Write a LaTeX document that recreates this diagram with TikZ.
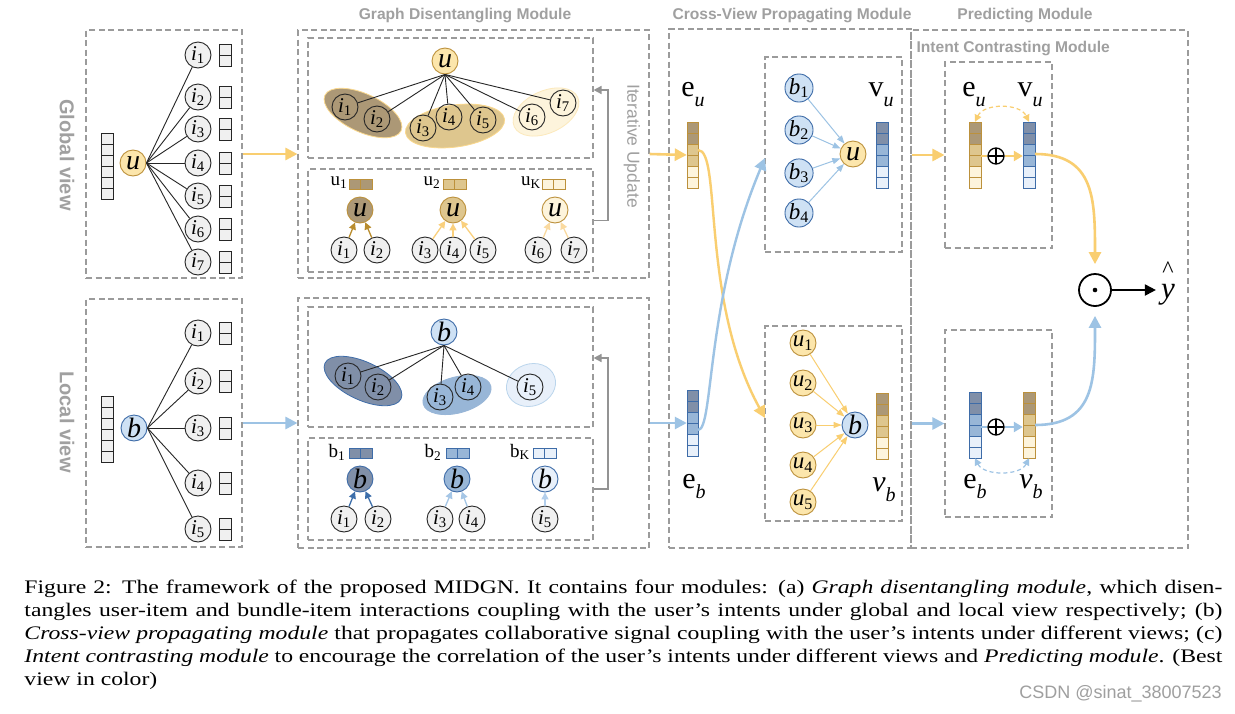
\documentclass[tikz,border=0pt]{standalone}
\usepackage{fontspec}
\setmainfont{Liberation Serif}
\setsansfont{Liberation Sans}
\usetikzlibrary{arrows.meta,shapes.geometric}
\definecolor{ylw}{RGB}{249,206,112}
\definecolor{blu}{RGB}{157,195,228}
\definecolor{brD}{RGB}{172,152,118}
\definecolor{brM}{RGB}{222,198,142}
\definecolor{brL}{RGB}{253,244,220}
\definecolor{brB}{RGB}{188,145,60}
\definecolor{blD}{RGB}{128,143,168}
\definecolor{blM}{RGB}{152,182,215}
\definecolor{blL}{RGB}{232,240,250}
\definecolor{blB}{RGB}{62,108,168}
\definecolor{uF}{RGB}{252,230,172}
\definecolor{bF}{RGB}{206,225,244}
\definecolor{gF}{RGB}{240,240,240}
\definecolor{dashG}{RGB}{155,155,155}
\definecolor{ttlG}{RGB}{160,160,160}
\definecolor{arG1}{RGB}{185,140,45}
\definecolor{arG2}{RGB}{250,208,125}
\definecolor{arG3}{RGB}{250,218,160}
\definecolor{arB1}{RGB}{60,110,170}
\definecolor{arB2}{RGB}{165,198,230}
\definecolor{arB3}{RGB}{178,206,236}
\newcommand\itm[1]{\textit{i}\textsubscript{#1}}
\newcommand\usb[1]{\textit{u}\textsubscript{#1}}
\newcommand\bsb[1]{\textit{b}\textsubscript{#1}}
\newcommand\elab[2]{{\fontsize{30}{30}\selectfont #1}\raisebox{-10pt}{\fontsize{20}{20}\selectfont\textit{#2}}}
\newcommand\vcells[6]{\foreach \cc [count=\kk from 0] in {#5} {\filldraw[fill=\cc, draw=#6, line width=0.9pt] (#1,{#2+\kk*#4}) rectangle ++(#3,#4);}}
\newcommand\hcells[6]{\foreach \cc [count=\kk from 0] in {#5} {\filldraw[fill=\cc, draw=#6, line width=0.9pt] ({#1+\kk*#3},#2) rectangle ++(#3,#4);}}
\begin{document}
\begin{tikzpicture}[x=1pt,y=-1pt,
  dbox/.style={draw=dashG, dash pattern=on 6pt off 3.5pt, line width=1.1pt, rectangle, inner sep=0pt},
  inode/.style={circle, draw=black!85, line width=0.9pt, minimum size=26pt, inner sep=0pt, font=\fontsize{21}{21}\selectfont},
  ginode/.style={inode, fill=gF},
  unode/.style={circle, draw=brB, line width=0.9pt, fill=uF, minimum size=26pt, inner sep=0pt, font=\fontsize{28}{28}\selectfont},
  bnode/.style={unode, draw=blB, fill=bF},
  snode/.style={circle, line width=0.9pt, minimum size=26pt, inner sep=0pt, font=\fontsize{23}{23}\selectfont},
  yarr/.style={draw=ylw, line width=2.6pt, -{Triangle[length=12pt,width=12pt]}},
  barr/.style={draw=blu, line width=2.6pt, -{Triangle[length=12pt,width=12pt]}},
  tarr/.style={line width=1.3pt, -{Triangle[length=7pt,width=7pt]}},
  farr/.style={line width=1pt, -{Triangle[length=8pt,width=6pt]}},
  iarr/.style={draw=gray!85, line width=1.5pt, -{Triangle[length=8pt,width=8pt]}},
  ttl/.style={font=\sffamily\bfseries\fontsize{15.6}{15.6}\selectfont, text=ttlG},
  vttl/.style={font=\sffamily\bfseries\fontsize{20}{20}\selectfont, text=ttlG, rotate=-90},
  lab/.style={font=\fontsize{19}{19}\selectfont, inner sep=0pt},
  vbox/.style={rectangle, inner sep=0pt, draw=none},
  edg/.style={draw=black!85, line width=0.9pt}]
\useasboundingbox (0,0) rectangle (1235,713);
\fill[white] (0,0) rectangle (1235,713);

% ---------------- Global view ----------------
\node[dbox, minimum width=156pt, minimum height=248pt] (gv) at (164,154) {};
\node[vttl] (gvl) at (67,155) {Global view};
\vcells{101}{133}{12}{11}{gF,gF,gF,gF,gF,gF}{black!85}
\node[unode] (gu) at (133,163) {\textit{u}};
\foreach \n/\yy in {1/55,2/97,3/129,4/163,5/196,6/229,7/262} {
  \node[ginode] (gi\n) at (198,\yy) {\itm{\n}};
  \draw[edg] (gu.east) -- (gi\n);
  \vcells{219}{\yy-11}{12}{11}{gF,gF}{black!85}
}
% ---------------- Local view ----------------
\node[dbox, minimum width=156pt, minimum height=248pt] (lv) at (164,423) {};
\node[vttl] (lvl) at (67,422) {Local view};
\vcells{101}{396}{12}{11}{gF,gF,gF,gF,gF,gF}{black!85}
\node[bnode] (lb) at (134,428) {\textit{b}};
\foreach \n/\yy in {1/333,2/381,3/428,4/483,5/529} {
  \node[ginode] (li\n) at (198,\yy) {\itm{\n}};
  \draw[edg] (lb.east) -- (li\n);
  \vcells{219}{\yy-11}{12}{11}{gF,gF}{black!85}
}

% ---------------- Graph disentangling (global) ----------------
\node[ttl] (t1) at (465,15) {Graph Disentangling Module};
\node[dbox, minimum width=351pt, minimum height=248pt] (gdg) at (473.5,154) {};
\node[dbox, minimum width=285pt, minimum height=120pt] (gtop) at (450.5,98) {};
\node[dbox, minimum width=285pt, minimum height=103pt] (gbot) at (450.5,220.5) {};
\node[ellipse, fill=brD, draw=ylw!80, line width=0.8pt, minimum width=84pt, minimum height=38pt, rotate=-25] (ge1) at (363,113) {};
\node[ellipse, fill=brM, draw=ylw!80, line width=0.8pt, minimum width=100pt, minimum height=42pt, rotate=8] (ge2) at (455,126) {};
\node[ellipse, fill=brL, draw=brL!70!ylw, line width=0.8pt, minimum width=70pt, minimum height=42pt, rotate=25] (ge3) at (546,112) {};
\node[unode] (gtu) at (445,61) {\textit{u}};
\foreach \n/\xx/\yy in {1/345/107,2/377/119,3/423/128,4/449/117,5/483/120,6/532/117,7/563/103} {
  \node[inode] (gt\n) at (\xx,\yy) {\itm{\n}};
  \draw[edg] (gtu.south) -- (gt\n);
}
\node[lab] (lu1) at (339,183) {u\textsubscript{1}};
\hcells{349}{179}{11.5}{10}{brD,brD}{brB}
\node[lab] (lu2) at (432,183) {u\textsubscript{2}};
\hcells{443}{179}{11.5}{10}{brM,brM}{brB}
\node[lab] (lu3) at (531,183) {u\textsubscript{K}};
\hcells{542}{179}{11.5}{10}{brL,brL}{brB}
\node[unode, fill=brD] (gbu1) at (360,210) {\textit{u}};
\node[unode, fill=brM] (gbu2) at (453,210) {\textit{u}};
\node[unode, fill=brL] (gbu3) at (555,210) {\textit{u}};
\foreach \n/\xx in {1/344,2/377,3/425,4/453,5/483,6/538,7/574} {
  \node[ginode] (gb\n) at (\xx,250) {\itm{\n}};
}
\draw[tarr, draw=arG1] (gb1) -- (gbu1);
\draw[tarr, draw=arG1] (gb2) -- (gbu1);
\draw[tarr, draw=arG2] (gb3) -- (gbu2);
\draw[tarr, draw=arG2] (gb4) -- (gbu2);
\draw[tarr, draw=arG2] (gb5) -- (gbu2);
\draw[tarr, draw=arG3] (gb6) -- (gbu3);
\draw[tarr, draw=arG3] (gb7) -- (gbu3);
\coordinate (itg) at (608,90);
\draw[iarr] (gbot.east) -| (itg) -- (gtop.east |- itg);
\node[rotate=-90, font=\sffamily\fontsize{17.5}{17.5}\selectfont, text=ttlG] (itl) at (632,146) {Iterative Update};

% ---------------- Graph disentangling (local) ----------------
\node[dbox, minimum width=351pt, minimum height=250pt] (gdl) at (473.5,423) {};
\node[dbox, minimum width=285pt, minimum height=120pt] (ltop) at (450.5,367) {};
\node[dbox, minimum width=285pt, minimum height=102pt] (lbot) at (450.5,489) {};
\node[ellipse, fill=blD, draw=blB, line width=0.8pt, minimum width=84pt, minimum height=38pt, rotate=-25] (le1) at (363,381) {};
\node[ellipse, fill=blM, draw=blM, line width=0.8pt, minimum width=70pt, minimum height=36pt, rotate=15] (le2) at (457,395) {};
\node[ellipse, fill=blL, draw=blu!70, line width=0.8pt, minimum width=50pt, minimum height=42pt, rotate=20] (le3) at (531,385) {};
\node[bnode] (ltb) at (444,332) {\textit{b}};
\foreach \n/\xx/\yy in {1/348/376,2/378/387,3/440/397,4/468/387,5/530/387} {
  \node[inode] (lt\n) at (\xx,\yy) {\itm{\n}};
  \draw[edg] (ltb.south) -- (lt\n);
}
\node[lab] (lb1) at (337,452) {b\textsubscript{1}};
\hcells{349}{448}{11.5}{10}{blD,blD}{blB}
\node[lab] (lb2) at (433,452) {b\textsubscript{2}};
\hcells{446}{448}{11.5}{10}{blM,blM}{blB}
\node[lab] (lb3) at (520,452) {b\textsubscript{K}};
\hcells{533}{448}{11.5}{10}{blL,blL}{blB}
\node[bnode, fill=blD] (lbb1) at (360,479) {\textit{b}};
\node[bnode, fill=blM] (lbb2) at (457,479) {\textit{b}};
\node[bnode, fill=blL] (lbb3) at (545,479) {\textit{b}};
\foreach \n/\xx in {1/344,2/378,3/440,4/472,5/545} {
  \node[ginode] (lbi\n) at (\xx,519) {\itm{\n}};
}
\draw[tarr, draw=arB1] (lbi1) -- (lbb1);
\draw[tarr, draw=arB1] (lbi2) -- (lbb1);
\draw[tarr, draw=arB2] (lbi3) -- (lbb2);
\draw[tarr, draw=arB2] (lbi4) -- (lbb2);
\draw[tarr, draw=arB3] (lbi5) -- (lbb3);
\coordinate (itl2) at (608,358);
\draw[iarr] (lbot.east) -| (itl2) -- (ltop.east |- itl2);

% module arrows
\draw[yarr] (gv.east) -- (gdg.west);
\draw[barr] (lv.east) -- (gdl.west);

% ---------------- Cross-view propagating ----------------
\node[ttl] (t2) at (792,15) {Cross-View Propagating Module};
\node[dbox, minimum width=242pt, minimum height=519pt] (cv) at (790,288.5) {};
\node[dbox, minimum width=137pt, minimum height=195pt] (cvt) at (833.5,154.5) {};
\node[dbox, minimum width=137pt, minimum height=195pt] (cvb) at (833.5,423.5) {};
\vcells{687}{122}{11}{11}{brD,brD,brM,brM,brL,brL}{brB}
\node[vbox, minimum width=11pt, minimum height=66pt] (eu) at (692.5,155) {};
\node[inner sep=0pt] (leu) at (693,95) {\elab{e}{u}};
\vcells{687}{390}{11}{11}{blD,blD,blM,blM,blL,blL}{blB}
\node[vbox, minimum width=11pt, minimum height=66pt] (eb) at (692.5,423) {};
\node[inner sep=0pt] (leb) at (694,487) {\elab{e}{b}};
\draw[yarr] (gdg.east) -- (eu.west);
\draw[barr] (gdl.east) -- (eb.west);
% top inner
\foreach \n/\yy in {1/88,2/130,3/173,4/213} {
  \node[snode, draw=blB, fill=bF] (cb\n) at (799,\yy) {\bsb{\n}};
}
\node[unode] (cu) at (853,154) {\textit{u}};
\foreach \n in {1,2,3,4} { \draw[farr, draw=blu] (cb\n) -- (cu); }
\vcells{876}{122}{12}{11}{blD,blD,blM,blM,blL,blL}{blB}
\node[vbox, minimum width=12pt, minimum height=66pt] (vu) at (882,155) {};
\node[inner sep=0pt] (lvu) at (881,95) {\elab{v}{u}};
% bottom inner
\foreach \n/\yy in {1/343,2/383,3/425,4/465,5/502} {
  \node[snode, draw=brB, fill=uF] (cuu\n) at (803,\yy) {\usb{\n}};
}
\node[bnode] (cbb) at (855,425) {\textit{b}};
\foreach \n in {1,2,3,4,5} { \draw[farr, draw=ylw] (cuu\n) -- (cbb); }
\vcells{876}{393}{12}{11}{brD,brD,brM,brM,brL,brL}{brB}
\node[vbox, minimum width=12pt, minimum height=66pt] (vb) at (882,426) {};
\node[inner sep=0pt] (lvb) at (884,490) {\elab{\textit{v}}{b}};
% crossing curves
\coordinate (euo) at (698,150);
\coordinate (ebo) at (698,430);
\coordinate (cvbin) at (765,418);
\coordinate (cvtin) at (765,158);
\draw[yarr, line width=2.4pt] (euo) .. controls (722,150) and (700,300) .. (cvbin);
\draw[barr, line width=2.4pt] (ebo) .. controls (714,430) and (705,300) .. (cvtin);

% ---------------- Predicting / Intent ----------------
\node[ttl] (t3) at (1025,15) {Predicting Module};
\node[dbox, minimum width=277pt, minimum height=518pt] (pm) at (1049.5,289) {};
\node[ttl, anchor=west] (t4) at (913,48) {Intent Contrasting Module};
\node[dbox, minimum width=107pt, minimum height=186pt] (ict) at (998.5,155) {};
\node[dbox, minimum width=107pt, minimum height=187pt] (icb) at (998.5,423.5) {};
\draw[yarr] (ict.west -| cv.east) -- (ict.west);
\draw[barr] (icb.west -| cv.east) -- (icb.west);
% top
\vcells{969}{122}{12}{11}{brD,brD,brM,brM,brL,brL}{brB}
\node[vbox, minimum width=12pt, minimum height=66pt] (eui) at (975,155) {};
\vcells{1023}{122}{12}{11}{blD,blD,blM,blM,blL,blL}{blB}
\node[vbox, minimum width=12pt, minimum height=66pt] (vui) at (1029,155) {};
\node[inner sep=0pt] (leu2) at (974,95) {\elab{e}{u}};
\node[inner sep=0pt] (lvu2) at (1030,95) {\elab{v}{u}};
\node[circle, draw=black, line width=1.3pt, minimum size=16pt, inner sep=0pt,
  path picture={\draw[line width=1.2pt] (path picture bounding box.north) -- (path picture bounding box.south) (path picture bounding box.west) -- (path picture bounding box.east);}] (op1) at (996,156) {};
\draw[draw=ylw, line width=2.4pt] (eui.east |- op1) -- (op1);
\draw[draw=ylw, line width=2.4pt, -{Triangle[length=9pt,width=10pt]}] (op1) -- (vui.west |- op1);
\draw[draw=ylw, line width=1.2pt, dash pattern=on 4pt off 3pt, {Triangle[length=7pt,width=7pt]}-{Triangle[length=7pt,width=7pt]}] (eui.north) .. controls (984,103) and (1020,103) .. (vui.north);
% bottom
\vcells{969}{392}{12}{11}{blD,blD,blM,blM,blL,blL}{blB}
\node[vbox, minimum width=12pt, minimum height=66pt] (ebi) at (975,425) {};
\vcells{1023}{392}{12}{11}{brD,brD,brM,brM,brL,brL}{brB}
\node[vbox, minimum width=12pt, minimum height=66pt] (vbi) at (1029,425) {};
\node[inner sep=0pt] (leb2) at (975,487) {\elab{e}{b}};
\node[inner sep=0pt] (lvb2) at (1031,487) {\elab{\textit{v}}{b}};
\node[circle, draw=black, line width=1.3pt, minimum size=16pt, inner sep=0pt,
  path picture={\draw[line width=1.2pt] (path picture bounding box.north) -- (path picture bounding box.south) (path picture bounding box.west) -- (path picture bounding box.east);}] (op2) at (996,427) {};
\draw[draw=blu, line width=2.4pt] (ebi.east |- op2) -- (op2);
\draw[draw=blu, line width=2.4pt, -{Triangle[length=9pt,width=10pt]}] (op2) -- (vbi.west |- op2);
\draw[draw=blu, line width=1.2pt, dash pattern=on 4pt off 3pt, {Triangle[length=7pt,width=7pt]}-{Triangle[length=7pt,width=7pt]}] (ebi.south) .. controls (984,476) and (1020,476) .. (vbi.south);
% prediction
\node[circle, draw=black, line width=1.8pt, minimum size=32pt, inner sep=0pt,
  path picture={\fill (path picture bounding box.center) circle (2.3pt);}] (od) at (1095,290) {};
\draw[draw=ylw, line width=2.6pt, -{Triangle[length=12pt,width=12pt]}, shorten >=9pt] (vui.east |- 0,154) .. controls (1095,154) and (1095,200) .. (od.north);
\draw[draw=blu, line width=2.6pt, -{Triangle[length=12pt,width=12pt]}, shorten >=9pt] (vbi.east |- 0,425) .. controls (1095,425) and (1095,380) .. (od.south);
\node[inner sep=0pt, font=\fontsize{31}{31}\selectfont] (yh) at (1168,282) {\begin{tabular}{@{}c@{}}{\fontsize{24}{24}\selectfont\textasciicircum}\\[-10pt]\textit{y}\end{tabular}};
\draw[draw=black, line width=2pt, -{Triangle[length=11pt,width=11pt]}, shorten >=5pt] (od.east) -- (od.east -| yh.west);

% ---------------- Caption ----------------
\begin{scope}[shift={(24,580)}, xscale=2.368, yscale=1.917]
\node[anchor=north west, inner sep=0pt, transform shape, text width=505.89pt, align=justify,
  font=\fontsize{10}{12}\selectfont] (cap) at (0,0) {\hyphenpenalty=10000\exhyphenpenalty=10000
Figure 2: The framework of the proposed MIDGN. It contains four modules: (a) \textit{Graph disentangling module}, which disen-\linebreak tangles user-item and bundle-item interactions coupling with the user’s intents under global and local view respectively; (b)\linebreak \textit{Cross-view propagating module} that propagates collaborative signal coupling with the user’s intents under different views; (c)\linebreak \textit{Intent contrasting module} to encourage the correlation of the user’s intents under different views and \textit{Predicting module}. (Best\linebreak view in color)};
\end{scope}
\node[anchor=east, inner sep=0pt, font=\sffamily\fontsize{18}{18}\selectfont, text=gray!75] (wm) at (1222,694) {CSDN @sinat\_38007523};
\end{tikzpicture}
\end{document}
